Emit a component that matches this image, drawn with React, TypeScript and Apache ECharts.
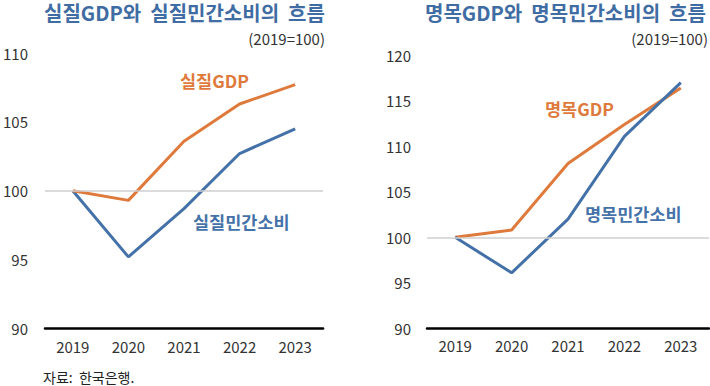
import React, { useEffect, useRef } from "react";
import * as echarts from "echarts";

const years = ["2019", "2020", "2021", "2022", "2023"];
const realGdp = [100, 99.3, 103.6, 106.3, 107.7];
const realConsumption = [100, 95.2, 98.7, 102.7, 104.5];
const nominalGdp = [100, 100.8, 108.1, 112.4, 116.4];
const nominalConsumption = [100, 96.1, 102.0, 111.1, 117.0];

const leftTitle = "실질GDP와  실질민간소비의  흐름";
const rightTitle = "명목GDP와  명목민간소비의  흐름";
const unitText = "(2019=100)";
const source = "자료:  한국은행.";

const ORANGE = "#DE7A3C";
const BLUE = "#4472A8";
const TITLE_BLUE = "#3F6DA3";
const FONT = "'Noto Sans CJK KR', 'Noto Sans', sans-serif";

export default function App() {
  const ref = useRef<HTMLDivElement>(null);
  useEffect(() => {
    if (!ref.current) return;
    const chart = echarts.init(ref.current, null, { renderer: "svg" });
    const axisLabel = { color: "#333", fontSize: 15, fontFamily: FONT };
    const xAxisBase = {
      type: "category",
      data: years,
      boundaryGap: true,
      axisTick: { show: false },
      axisLine: { show: true, lineStyle: { color: "#000", width: 2.5 } },
      axisLabel: { ...axisLabel, margin: 10 },
    };
    const lineBase = {
      type: "line",
      symbol: "none",
      lineStyle: { width: 3 },
    };
    const mark100 = {
      silent: true,
      symbol: "none",
      label: { show: false },
      lineStyle: { color: "#cfcfcf", width: 1.5, type: "solid" },
      data: [{ yAxis: 100 }],
    };
    chart.setOption({
      animation: false,
      grid: [
        { left: 45, width: 278, top: 53, height: 275.5 },
        { left: 427, width: 282, top: 55.3, height: 273 },
      ],
      xAxis: [
        { ...xAxisBase, gridIndex: 0 },
        { ...xAxisBase, gridIndex: 1 },
      ],
      yAxis: [
        {
          type: "value",
          gridIndex: 0,
          min: 90,
          max: 110,
          interval: 5,
          splitLine: { show: false },
          axisLine: { show: false },
          axisTick: { show: false },
          axisLabel: { ...axisLabel, align: "right", margin: 17 },
        },
        {
          type: "value",
          gridIndex: 1,
          min: 90,
          max: 120,
          interval: 5,
          splitLine: { show: false },
          axisLine: { show: false },
          axisTick: { show: false },
          axisLabel: { ...axisLabel, align: "right", margin: 16 },
        },
      ],
      series: [
        {
          ...lineBase,
          name: "실질민간소비",
          xAxisIndex: 0,
          yAxisIndex: 0,
          data: realConsumption,
          lineStyle: { width: 3, color: BLUE },
          markLine: mark100,
          z: 2,
        },
        {
          ...lineBase,
          name: "실질GDP",
          xAxisIndex: 0,
          yAxisIndex: 0,
          data: realGdp,
          lineStyle: { width: 3, color: ORANGE },
          z: 3,
        },
        {
          ...lineBase,
          name: "명목GDP",
          xAxisIndex: 1,
          yAxisIndex: 1,
          data: nominalGdp,
          lineStyle: { width: 3, color: ORANGE },
          markLine: mark100,
          z: 2,
        },
        {
          ...lineBase,
          name: "명목민간소비",
          xAxisIndex: 1,
          yAxisIndex: 1,
          data: nominalConsumption,
          lineStyle: { width: 3, color: BLUE },
          z: 3,
        },
      ],
      graphic: [
        {
          type: "text",
          left: 44,
          top: 2,
          style: { text: leftTitle, fill: TITLE_BLUE, font: `bold 20px ${FONT}` },
        },
        {
          type: "text",
          left: 425,
          top: 2,
          style: { text: rightTitle, fill: TITLE_BLUE, font: `bold 20px ${FONT}` },
        },
        {
          type: "text",
          right: 385,
          top: 31,
          style: { text: unitText, fill: "#333", font: `15px ${FONT}` },
        },
        {
          type: "text",
          right: 2,
          top: 31,
          style: { text: unitText, fill: "#333", font: `15px ${FONT}` },
        },
        {
          type: "text",
          left: 180,
          top: 72,
          style: { text: "실질GDP", fill: ORANGE, font: `bold 17.5px ${FONT}` },
        },
        {
          type: "text",
          left: 193,
          top: 213,
          style: { text: "실질민간소비", fill: BLUE, font: `bold 17.5px ${FONT}` },
        },
        {
          type: "text",
          left: 545,
          top: 100,
          style: { text: "명목GDP", fill: ORANGE, font: `bold 17.5px ${FONT}` },
        },
        {
          type: "text",
          left: 585,
          top: 205,
          style: { text: "명목민간소비", fill: BLUE, font: `bold 17.5px ${FONT}` },
        },
        {
          type: "text",
          left: 43,
          top: 370,
          style: { text: source, fill: "#222", font: `14px ${FONT}` },
        },
      ],
    });
    return () => chart.dispose();
  }, []);
  return (
    <div
      ref={ref}
      style={{ position: "fixed", left: 0, top: 0, width: 710, height: 386, background: "#fff" }}
    />
  );
}
